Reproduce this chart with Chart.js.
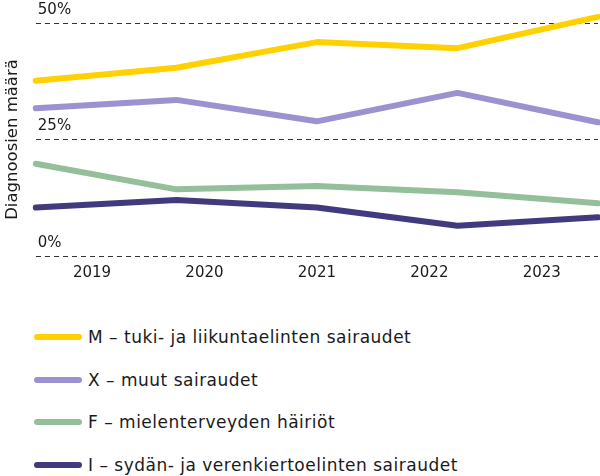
<!DOCTYPE html>
<html>
<head>
<meta charset="utf-8">
<script src="https://cdn.jsdelivr.net/npm/chart.js@4"></script>
<style>
  html, body { margin: 0; padding: 0; background: #fff; }
  #page { width: 600px; height: 476px; position: relative; }
  #wrap { width: 600px; height: 290px; position: absolute; left: 0; top: 0; }
  #legend { list-style: none; margin: 0; padding: 0; position: absolute; left: 0; top: 315.7px; }
  #legend li { display: flex; align-items: center; height: 42.67px;
      font: 17px 'DejaVu Sans', sans-serif; letter-spacing: 0.5px; color: #1a1a1a; white-space: nowrap; }
  #legend .swatch { display: inline-block; width: 48px; height: 6px; border-radius: 3px; margin: 0 6px 0 34px; }
</style>
</head>
<body>
<div id="page">
  <div id="wrap"><canvas id="myChart"></canvas></div>
  <ul id="legend"></ul>
</div>
<script>
const years = ["2019", "2020", "2021", "2022", "2023"];
const seriesM = [37.6, 40.4, 45.9, 44.6, 51.3];
const seriesX = [31.7, 33.5, 28.9, 35.0, 28.7];
const seriesF = [19.8, 14.3, 15.0, 13.7, 11.3];
const seriesI = [10.4, 12.0, 10.4, 6.5, 8.3];
const yTicks = [0, 25, 50];

const fontFamily = "'DejaVu Sans', sans-serif";
const textColor = "#1a1a1a";

function line(label, data, color) {
    return {
        label: label,
        data: data,
        borderColor: color,
        backgroundColor: color,
        borderWidth: 6,
        borderCapStyle: 'round',
        borderJoinStyle: 'round',
        pointRadius: 0,
        pointHoverRadius: 0,
        tension: 0,
        clip: false
    };
}

// legend as a plain list under the canvas, one series per row
const htmlLegend = {
    id: 'htmlLegend',
    afterUpdate(chart) {
        const ul = document.getElementById('legend');
        ul.innerHTML = '';
        const items = chart.options.plugins.legend.labels.generateLabels(chart);
        items.forEach(item => {
            const li = document.createElement('li');
            const box = document.createElement('span');
            box.className = 'swatch';
            box.style.background = item.strokeStyle;
            const text = document.createElement('span');
            text.textContent = item.text;
            li.appendChild(box);
            li.appendChild(text);
            ul.appendChild(li);
        });
    }
};

const ctx = document.getElementById("myChart").getContext("2d");
window.myChart = new Chart(ctx, {
    type: 'line',
    plugins: [htmlLegend],
    data: {
        labels: years,
        datasets: [
            line('M – tuki- ja liikuntaelinten sairaudet', seriesM, '#FFD100'),
            line('X – muut sairaudet', seriesX, '#9C92CF'),
            line('F – mielenterveyden häiriöt', seriesF, '#93BF9A'),
            line('I – sydän- ja verenkiertoelinten sairaudet', seriesI, '#423A7F')
        ]
    },
    options: {
        responsive: true,
        maintainAspectRatio: false,
        animation: false,
        layout: { padding: { top: 23, right: 2, left: 10, bottom: 8 } },
        plugins: {
            tooltip: { enabled: false },
            legend: { display: false }
        },
        scales: {
            x: {
                display: false,
                offset: false
            },
            x2: {
                type: 'category',
                labels: years,
                position: 'bottom',
                offset: true,
                grid: { display: false },
                border: { display: false },
                ticks: { color: textColor, padding: 0, font: { family: fontFamily, size: 15 } }
            },
            y: {
                min: 0,
                max: 50,
                afterBuildTicks: axis => { axis.ticks = yTicks.map(v => ({ value: v })); },
                ticks: {
                    mirror: true,
                    labelOffset: -13,
                    padding: 2,
                    color: textColor,
                    font: { family: fontFamily, size: 15 },
                    callback: v => v + '%'
                },
                grid: { color: '#333', lineWidth: 1, drawTicks: false },
                border: { display: false, dash: [5, 4] },
                title: {
                    display: true,
                    text: 'Diagnoosien määrä',
                    color: textColor,
                    padding: { top: -7, bottom: 9 },
                    font: { family: fontFamily, size: 16.5 }
                }
            }
        }
    }
});
</script>
</body>
</html>
